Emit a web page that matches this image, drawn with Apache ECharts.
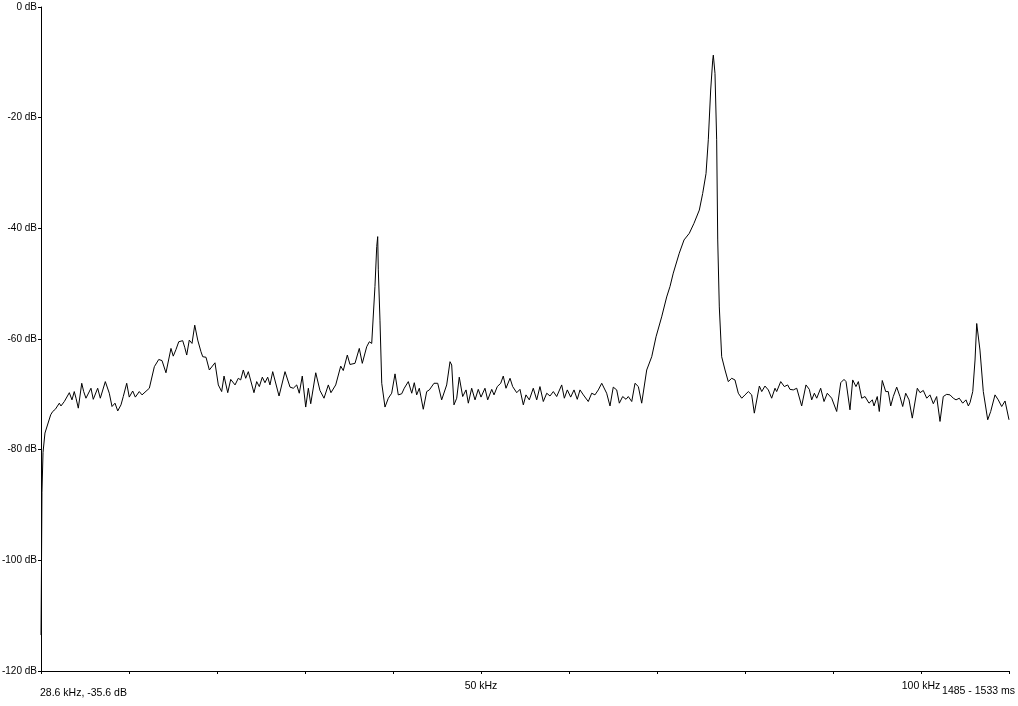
<!DOCTYPE html>
<html>
<head>
<meta charset="utf-8">
<script src="https://cdn.jsdelivr.net/npm/echarts@6/dist/echarts.min.js"></script>
<style>
html,body{margin:0;padding:0;background:#fff;}
#c{width:1018px;height:706px;}
</style>
</head>
<body>
<div id="c"></div>
<script>
// Frequency (kHz) of each traced sample
var freqKHz = [
0.0,0.06,0.11,0.23,0.45,1.1,1.33,1.63,2.08,2.27,2.65,3.22,3.52,3.78,3.98,4.24,4.63,4.85,5.11,5.68,5.94,6.44,6.74,7.31,7.76,8.07,8.41,8.72,9.09,9.35,9.74,10.03,10.42,10.72,11.17,11.48,12.31,12.5,12.88,13.38,13.75,14.2,14.77,15.03,15.34,15.65,16.1,16.33,16.56,16.85,17.16,17.47,17.81,18.18,18.38,18.75,19.13,19.77,20.15,20.53,20.8,21.22,21.56,22.05,22.42,22.69,22.99,23.26,23.56,24.2,24.51,24.81,25.15,25.45,25.76,26.02,26.33,27.05,27.73,28.3,28.67,29.06,29.35,29.69,30.08,30.38,30.65,31.22,31.7,32.16,32.65,32.95,33.49,33.67,34.06,34.35,34.81,35.11,35.68,36.17,36.51,37.01,37.31,37.58,37.76,37.95,38.15,38.26,38.33,38.52,38.72,39.09,39.47,39.85,40.23,40.6,40.99,41.28,41.74,42.13,42.42,42.69,42.99,43.44,43.83,44.13,44.66,45.08,45.53,46.1,46.48,46.67,46.93,47.24,47.53,47.92,48.3,48.56,48.94,49.32,49.69,50.0,50.45,50.76,51.22,51.48,51.85,52.24,52.53,52.84,53.3,53.6,54.06,54.43,54.81,55.11,55.49,55.94,56.33,56.7,57.08,57.47,57.84,58.22,58.6,59.17,59.47,59.81,60.19,60.57,60.94,61.25,61.63,62.19,62.58,62.95,63.33,63.72,64.28,64.66,65.03,65.42,65.72,66.1,66.48,66.74,67.13,67.5,67.88,68.26,68.83,69.4,69.89,70.53,71.1,71.48,71.85,72.53,73.07,73.67,74.2,74.81,75.19,75.57,75.83,76.1,76.33,76.4,76.59,76.78,76.9,77.08,77.35,77.73,78.1,78.49,78.86,79.24,79.63,80.0,80.38,80.76,81.06,81.63,81.9,82.27,82.65,83.03,83.41,83.6,84.06,84.47,84.85,85.11,85.49,85.88,86.44,86.93,87.31,87.58,87.88,88.15,88.6,88.98,89.35,89.85,90.42,90.88,91.25,91.48,91.93,92.24,92.61,92.88,93.26,93.64,94.09,94.47,94.66,95.03,95.26,95.6,95.99,96.28,96.56,96.85,97.24,97.61,97.92,98.26,98.64,99.01,99.58,99.89,100.26,100.65,101.02,101.4,101.78,102.16,102.53,102.92,103.3,103.67,103.98,104.35,104.74,105.11,105.38,105.57,105.88,106.14,106.33,106.51,106.7,107.08,107.58,107.92,108.41,108.78,109.17,109.55,110.0
];
// Level (dB) of each traced sample
var levelDb = [
-113.5,-100,-87.7,-80.5,-77,-73.7,-73.1,-72.7,-71.6,-72.1,-71.3,-69.7,-71.0,-69.5,-70.7,-72.5,-68.0,-69.5,-70.7,-68.9,-70.9,-68.9,-70.7,-67.7,-69.8,-72.2,-71.6,-73.0,-71.9,-70.4,-68.0,-70.5,-69.4,-70.5,-69.5,-70.1,-68.9,-68.6,-65.0,-63.7,-63.9,-66.1,-61.7,-63.1,-61.9,-60.5,-60.3,-61.5,-62.9,-60.2,-60.8,-57.5,-60.2,-62.3,-63.2,-63.3,-65.6,-64.3,-68.3,-69.5,-66.7,-69.7,-67.3,-68.3,-67.1,-67.4,-65.6,-67.1,-65.9,-69.7,-67.7,-68.6,-66.9,-67.9,-66.9,-68.3,-65.9,-70.3,-65.9,-68.7,-68.9,-68.3,-69.8,-66.7,-72.3,-68.9,-71.7,-66.1,-69.3,-70.7,-68.3,-69.7,-68.3,-68.6,-64.9,-65.7,-62.9,-64.6,-64.4,-61.7,-64.4,-61.4,-60.5,-60.8,-60.5,-50.5,-43.3,-41.5,-47.5,-56.6,-68.0,-72.3,-70.7,-69.8,-66.3,-70.1,-69.9,-68.9,-67.7,-69.8,-67.9,-70.1,-68.9,-72.7,-69.5,-69.2,-68.0,-68.0,-71.0,-68.3,-64.1,-64.7,-71.9,-70.7,-66.9,-70.4,-69.2,-71.6,-68.9,-71.0,-69.1,-70.5,-68.9,-71.0,-69.1,-70.1,-68.6,-68.0,-66.7,-68.9,-67.1,-68.6,-69.7,-69.1,-71.9,-70.1,-71.0,-68.9,-71.0,-68.6,-71.3,-69.8,-70.3,-69.5,-70.4,-68.3,-70.7,-69.2,-70.5,-69.2,-70.9,-69.2,-70.1,-71.3,-69.8,-70.1,-69.2,-68.0,-69.8,-72.1,-68.7,-69.2,-71.6,-70.4,-70.9,-70.4,-71.3,-68.0,-68.6,-71.6,-65.6,-63.2,-59.6,-56.0,-52.4,-50.5,-48.1,-44.5,-42.1,-40.9,-39.1,-36.7,-33.7,-30.1,-24.0,-15.0,-9.6,-8.7,-12.0,-24.0,-42.1,-54.2,-63.2,-65.6,-67.7,-67.1,-67.4,-69.8,-70.7,-70.1,-69.5,-70.1,-73.4,-68.5,-69.5,-68.5,-69.2,-70.7,-68.9,-69.5,-67.7,-68.6,-68.3,-69.1,-69.2,-68.9,-72.1,-68.3,-69.1,-71.0,-69.8,-70.7,-68.9,-71.3,-69.8,-70.7,-73.1,-67.9,-67.3,-67.7,-72.8,-67.4,-68.6,-67.7,-70.7,-70.4,-71.6,-71.0,-72.1,-70.4,-73.1,-67.5,-69.5,-69.5,-72.1,-70.4,-68.7,-70.4,-72.2,-69.8,-71.0,-74.3,-68.9,-69.7,-69.3,-70.7,-70.1,-71.7,-70.4,-74.9,-70.4,-70.0,-70.1,-70.7,-71.0,-70.7,-71.6,-71.0,-72.1,-71.5,-69.5,-63.8,-57.2,-57.5,-62.0,-69.5,-74.6,-73.1,-70.1,-71.0,-72.2,-71.2,-74.6
];
var xTickLabels = {50: '50 kHz', 100: '100 kHz'};
var yUnit = ' dB';
var cursorText = '28.6 kHz, -35.6 dB';
var timeText = '1485 - 1533 ms';

var pts = freqKHz.map(function (f, i) { return [f, levelDb[i]]; });
var FONT = 'Liberation Sans, Arial, sans-serif';

var chart = echarts.init(document.getElementById('c'), null, {renderer: 'canvas'});
chart.setOption({
  backgroundColor: '#ffffff',
  animation: false,
  grid: {left: 41, right: 9, top: 7, bottom: 35, containLabel: false, outerBoundsMode: 'none'},
  xAxis: {
    type: 'value', min: 0, max: 110, interval: 10,
    axisLine: {show: true, onZero: false, lineStyle: {color: '#000', width: 1}},
    axisTick: {show: true, length: 3, lineStyle: {color: '#000'}},
    splitLine: {show: false},
    axisLabel: {
      margin: 10, color: '#000', fontSize: 10.5, fontFamily: FONT,
      showMinLabel: true, showMaxLabel: true, hideOverlap: false,
      formatter: function (v) { return xTickLabels[v] || ''; }
    }
  },
  yAxis: {
    type: 'value', min: -120, max: 0, interval: 20,
    axisLine: {show: true, onZero: false, lineStyle: {color: '#000', width: 1}},
    axisTick: {show: true, length: 3, lineStyle: {color: '#000'}},
    splitLine: {show: false},
    axisLabel: {
      margin: 4, color: '#000', fontSize: 10, fontFamily: FONT,
      showMinLabel: true, showMaxLabel: true,
      formatter: function (v) { return v + yUnit; }
    }
  },
  graphic: [
    {type: 'text', left: 40, top: 688, style: {text: cursorText, fill: '#000', font: '10.5px ' + FONT}},
    {type: 'text', right: 3, top: 686, style: {text: timeText, fill: '#000', font: '10.5px ' + FONT}}
  ],
  series: [{
    type: 'line',
    data: pts,
    showSymbol: false,
    symbol: 'none',
    clip: true,
    lineStyle: {color: '#000', width: 1},
    emphasis: {disabled: true}
  }]
});
</script>
</body>
</html>
